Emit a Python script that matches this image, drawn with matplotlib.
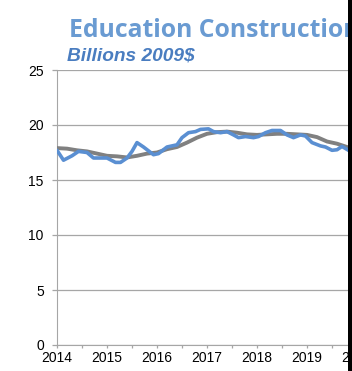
import matplotlib
matplotlib.use("Agg")
import matplotlib.pyplot as plt
from matplotlib.patches import Rectangle

# Monthly-ish actual spending (Billions 2009$)
actual_t = [2014.0, 2014.13, 2014.3, 2014.43, 2014.6, 2014.73, 2014.87, 2015.0, 2015.17, 2015.27,
            2015.4, 2015.5, 2015.6, 2015.73, 2015.93, 2016.03, 2016.2, 2016.3, 2016.4, 2016.5,
            2016.63, 2016.77, 2016.87, 2017.03, 2017.13, 2017.27, 2017.4, 2017.53, 2017.63, 2017.77,
            2017.93, 2018.03, 2018.17, 2018.3, 2018.47, 2018.6, 2018.73, 2018.87, 2018.97, 2019.1,
            2019.27, 2019.37, 2019.5, 2019.6, 2019.7, 2019.83, 2019.95]
actual_v = [17.7, 16.8, 17.2, 17.6, 17.5, 17.0, 17.0, 17.0, 16.6, 16.6,
            17.0, 17.6, 18.4, 18.0, 17.3, 17.4, 18.0, 18.1, 18.2, 18.85,
            19.3, 19.4, 19.6, 19.65, 19.4, 19.3, 19.4, 19.1, 18.85, 18.95,
            18.85, 18.95, 19.3, 19.5, 19.5, 19.1, 18.85, 19.1, 19.0, 18.4,
            18.1, 18.0, 17.7, 17.75, 18.05, 17.7, 17.5]

# Moving average
avg_t = [2014.0, 2014.2, 2014.4, 2014.6, 2014.8, 2015.0, 2015.2, 2015.4, 2015.6, 2015.8,
         2016.0, 2016.2, 2016.4, 2016.6, 2016.8, 2017.0, 2017.2, 2017.4, 2017.6, 2017.8,
         2018.0, 2018.2, 2018.4, 2018.6, 2018.8, 2019.0, 2019.2, 2019.4, 2019.6, 2019.8, 2019.95]
avg_v = [17.9, 17.85, 17.7, 17.6, 17.4, 17.2, 17.15, 17.05, 17.2, 17.4,
         17.5, 17.8, 18.0, 18.4, 18.85, 19.2, 19.35, 19.4, 19.3, 19.15,
         19.1, 19.15, 19.2, 19.2, 19.15, 19.1, 18.9, 18.5, 18.3, 18.0, 17.8]

years = [2014, 2015, 2016, 2017, 2018, 2019, 2020]
yticks = [0, 5, 10, 15, 20, 25]

W, H = 352, 371
fig = plt.figure(figsize=(W / 100, H / 100), dpi=100)
fig.patch.set_facecolor("white")

x0, x1 = 2014, 2020.2
left_px, bottom_px, top_px = 57, 345, 70
ax = fig.add_axes([left_px / W, (H - bottom_px) / H, (x1 - x0) * 50 / W, (bottom_px - top_px) / H])
ax.set_xlim(x0, x1)
ax.set_ylim(0, 25)

ax.plot(avg_t, avg_v, color="#808080", lw=2.8, zorder=3, solid_capstyle="round")
ax.plot(actual_t, actual_v, color="#5a8fd2", lw=2.6, zorder=4, solid_capstyle="round")

grid_c = "#a6a6a6"
ax.set_yticks(yticks)
ax.set_yticklabels([str(v) for v in yticks])
ax.grid(axis="y", color=grid_c, lw=0.9)
ax.set_axisbelow(True)
ax.set_xticks(years)
ax.set_xticklabels([str(y) for y in years])
ax.set_xticks([y + 0.5 for y in years[:-1]], minor=True)
for s in ["top", "right"]:
    ax.spines[s].set_visible(False)
ax.spines["left"].set_color(grid_c)
ax.spines["bottom"].set_color(grid_c)
ax.tick_params(axis="y", which="both", color=grid_c, length=3.5, width=0.9,
               labelsize=10, labelcolor="black", pad=6)
ax.tick_params(axis="x", which="both", color=grid_c, direction="out", length=2.5, width=0.9,
               labelsize=10, labelcolor="black", pad=2)
for lab in ax.get_xticklabels() + ax.get_yticklabels():
    lab.set_fontfamily("Liberation Sans")

fig.text(69 / W, 1 - 37 / H, "Education Construction", fontsize=17.8, fontweight="bold",
         family="Open Sans", color="#6a9bd2", va="baseline", ha="left")
fig.text(67 / W, 1 - 60 / H, "Billions 2009$", fontsize=13.8, fontweight="bold", style="italic",
         family="Liberation Sans", color="#4a7dc0", va="baseline", ha="left")

# black strip at the right edge of the cropped image
fig.add_artist(Rectangle((348 / W, 0), 4 / W, 1, transform=fig.transFigure,
                         facecolor="black", edgecolor="none", zorder=100))

fig.savefig("out.png", dpi=100)
